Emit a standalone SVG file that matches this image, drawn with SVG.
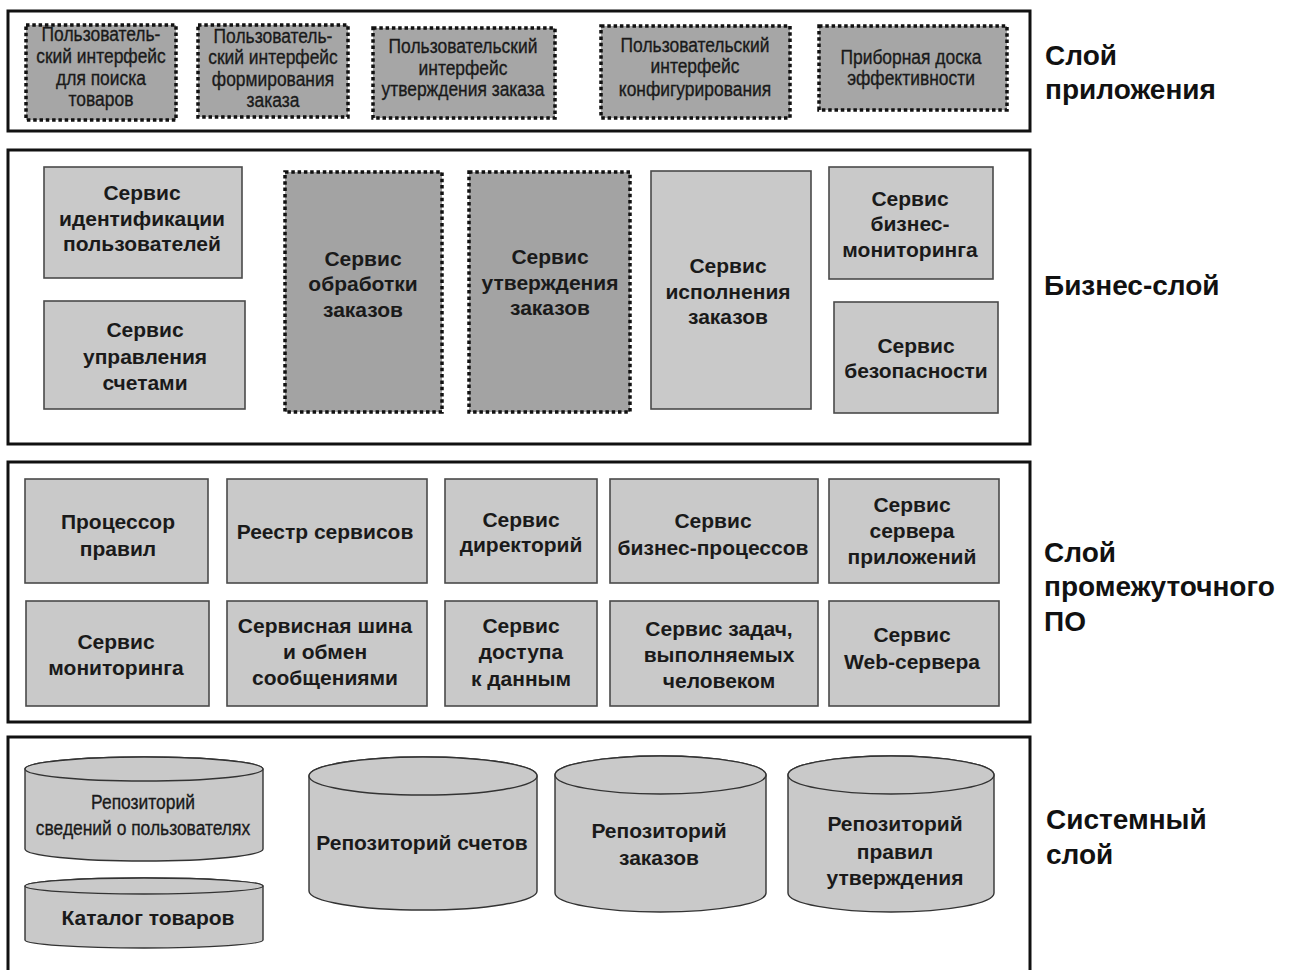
<svg xmlns="http://www.w3.org/2000/svg" width="1300" height="970" viewBox="0 0 1300 970">
<style>
.layer{fill:#fff;stroke:#111;stroke-width:3}
.box{fill:#c9c9c9;stroke:#4a4a4a;stroke-width:1.6}
.dot{fill:#a6a6a6;stroke:#111;stroke-width:3.5;stroke-dasharray:3.5 2.8}
.dotdk{fill:#a3a3a3;stroke:#111;stroke-width:3.5;stroke-dasharray:3.5 2.8}
.cyl{fill:#c9c9c9;stroke:#333;stroke-width:1.4}
.n{font-family:"Liberation Sans",Arial,sans-serif;font-size:21px;fill:#1a1a1a;stroke:#1a1a1a;stroke-width:0.35;text-anchor:middle}
.b{font-family:"Liberation Sans",Arial,sans-serif;font-size:21px;font-weight:bold;fill:#1a1a1a;text-anchor:middle}
.lbl{font-family:"Liberation Sans",Arial,sans-serif;font-size:28px;font-weight:bold;fill:#111}
</style>
<rect width="1300" height="970" fill="#fff"/>
<g id="layers">
<rect id="layer-app" class="layer" x="8" y="11" width="1022" height="120"/>
<rect id="layer-business" class="layer" x="8" y="150" width="1022" height="294"/>
<rect id="layer-middleware" class="layer" x="8" y="462" width="1022" height="260"/>
<rect id="layer-system" class="layer" x="8" y="737" width="1022" height="250"/>
</g>
<g id="layer-labels">
<text class="lbl" x="1045" y="65">Слой</text>
<text class="lbl" x="1045" y="99">приложения</text>
<text class="lbl" x="1044" y="295">Бизнес-слой</text>
<text class="lbl" x="1044" y="562">Слой</text>
<text class="lbl" x="1044" y="596">промежуточного</text>
<text class="lbl" x="1044" y="631">ПО</text>
<text class="lbl" x="1046" y="829">Системный</text>
<text class="lbl" x="1046" y="864">слой</text>
</g>
<g id="connectors"></g>
<!-- Application layer -->
<g id="ui-search">
<rect class="dot" x="26" y="25" width="150" height="95"/>
<g transform="translate(101,0) scale(0.83,1)">
<text class="n" x="0" y="41">Пользователь-</text>
<text class="n" x="0" y="63">ский интерфейс</text>
<text class="n" x="0" y="85">для поиска</text>
<text class="n" x="0" y="106">товаров</text>
</g>
</g>
<g id="ui-order">
<rect class="dot" x="198" y="25" width="150" height="92"/>
<g transform="translate(273,0) scale(0.83,1)">
<text class="n" x="0" y="43">Пользователь-</text>
<text class="n" x="0" y="64">ский интерфейс</text>
<text class="n" x="0" y="86">формирования</text>
<text class="n" x="0" y="107">заказа</text>
</g>
</g>
<g id="ui-approve">
<rect class="dot" x="373" y="28" width="182" height="90"/>
<g transform="translate(463,0) scale(0.83,1)">
<text class="n" x="0" y="53">Пользовательский</text>
<text class="n" x="0" y="75">интерфейс</text>
<text class="n" x="0" y="96">утверждения заказа</text>
</g>
</g>
<g id="ui-config">
<rect class="dot" x="601" y="26" width="189" height="92"/>
<g transform="translate(695,0) scale(0.83,1)">
<text class="n" x="0" y="52">Пользовательский</text>
<text class="n" x="0" y="73">интерфейс</text>
<text class="n" x="0" y="96">конфигурирования</text>
</g>
</g>
<g id="dashboard">
<rect class="dot" x="819" y="26" width="188" height="84"/>
<g transform="translate(911,0) scale(0.83,1)">
<text class="n" x="0" y="64">Приборная доска</text>
<text class="n" x="0" y="85">эффективности</text>
</g>
</g>
<!-- Business layer -->
<g id="svc-identity">
<rect class="box" x="44" y="167" width="198" height="111"/>
<text class="b" x="142" y="200">Сервис</text>
<text class="b" x="142" y="226">идентификации</text>
<text class="b" x="142" y="251">пользователей</text>
</g>
<g id="svc-accounts">
<rect class="box" x="44" y="301" width="201" height="108"/>
<text class="b" x="145" y="337">Сервис</text>
<text class="b" x="145" y="364">управления</text>
<text class="b" x="145" y="390">счетами</text>
</g>
<g id="svc-order-processing">
<rect class="dotdk" x="285" y="172" width="157" height="240"/>
<text class="b" x="363" y="266">Сервис</text>
<text class="b" x="363" y="291">обработки</text>
<text class="b" x="363" y="317">заказов</text>
</g>
<g id="svc-order-approval">
<rect class="dotdk" x="469" y="172" width="161" height="240"/>
<text class="b" x="550" y="264">Сервис</text>
<text class="b" x="550" y="290">утверждения</text>
<text class="b" x="550" y="315">заказов</text>
</g>
<g id="svc-order-fulfilment">
<rect class="box" x="651" y="171" width="160" height="238"/>
<text class="b" x="728" y="273">Сервис</text>
<text class="b" x="728" y="299">исполнения</text>
<text class="b" x="728" y="324">заказов</text>
</g>
<g id="svc-bam">
<rect class="box" x="829" y="167" width="164" height="112"/>
<text class="b" x="910" y="206">Сервис</text>
<text class="b" x="910" y="231">бизнес-</text>
<text class="b" x="910" y="257">мониторинга</text>
</g>
<g id="svc-security">
<rect class="box" x="834" y="302" width="164" height="111"/>
<text class="b" x="916" y="353">Сервис</text>
<text class="b" x="916" y="378">безопасности</text>
</g>
<!-- Middleware layer -->
<g id="mw-rules">
<rect class="box" x="25" y="479" width="183" height="104"/>
<text class="b" x="118" y="529">Процессор</text>
<text class="b" x="118" y="556">правил</text>
</g>
<g id="mw-registry">
<rect class="box" x="227" y="479" width="200" height="104"/>
<text class="b" x="325" y="539">Реестр сервисов</text>
</g>
<g id="mw-directory">
<rect class="box" x="445" y="479" width="152" height="104"/>
<text class="b" x="521" y="527">Сервис</text>
<text class="b" x="521" y="552">директорий</text>
</g>
<g id="mw-bpm">
<rect class="box" x="610" y="479" width="208" height="104"/>
<text class="b" x="713" y="528">Сервис</text>
<text class="b" x="713" y="555">бизнес-процессов</text>
</g>
<g id="mw-appserver">
<rect class="box" x="829" y="479" width="170" height="104"/>
<text class="b" x="912" y="512">Сервис</text>
<text class="b" x="912" y="538">сервера</text>
<text class="b" x="912" y="564">приложений</text>
</g>
<g id="mw-monitoring">
<rect class="box" x="26" y="601" width="183" height="105"/>
<text class="b" x="116" y="649">Сервис</text>
<text class="b" x="116" y="675">мониторинга</text>
</g>
<g id="mw-esb">
<rect class="box" x="227" y="601" width="200" height="105"/>
<text class="b" x="325" y="633">Сервисная шина</text>
<text class="b" x="325" y="659">и обмен</text>
<text class="b" x="325" y="685">сообщениями</text>
</g>
<g id="mw-dataaccess">
<rect class="box" x="445" y="601" width="152" height="105"/>
<text class="b" x="521" y="633">Сервис</text>
<text class="b" x="521" y="659">доступа</text>
<text class="b" x="521" y="686">к данным</text>
</g>
<g id="mw-humantask">
<rect class="box" x="610" y="601" width="208" height="105"/>
<text class="b" x="719" y="636">Сервис задач,</text>
<text class="b" x="719" y="662">выполняемых</text>
<text class="b" x="719" y="688">человеком</text>
</g>
<g id="mw-webserver">
<rect class="box" x="829" y="601" width="170" height="105"/>
<text class="b" x="912" y="642">Сервис</text>
<text class="b" x="912" y="669">Web-сервера</text>
</g>
<!-- System layer -->
<g id="repo-users">
<path class="cyl" d="M25,769 L25,849 A119,12 0 0 0 263,849 L263,769 A119,12 0 0 0 25,769 Z"/>
<ellipse class="cyl" cx="144" cy="769" rx="119" ry="12"/>
<g transform="translate(143,0) scale(0.83,1)">
<text class="n" x="0" y="809">Репозиторий</text>
<text class="n" x="0" y="835">сведений о пользователях</text>
</g>
</g>
<g id="catalog">
<path class="cyl" d="M25,886 L25,940 A119,8 0 0 0 263,940 L263,886 A119,8 0 0 0 25,886 Z"/>
<ellipse class="cyl" cx="144" cy="886" rx="119" ry="8"/>
<text class="b" x="148" y="925">Каталог товаров</text>
</g>
<g id="repo-accounts">
<path class="cyl" d="M309,776 L309,891 A114,19 0 0 0 537,891 L537,776 A114,19 0 0 0 309,776 Z"/>
<ellipse class="cyl" cx="423" cy="776" rx="114" ry="19"/>
<text class="b" x="422" y="850">Репозиторий счетов</text>
</g>
<g id="repo-orders">
<path class="cyl" d="M555,775 L555,893 A105.5,19 0 0 0 766,893 L766,775 A105.5,19 0 0 0 555,775 Z"/>
<ellipse class="cyl" cx="660.5" cy="775" rx="105.5" ry="19"/>
<text class="b" x="659" y="838">Репозиторий</text>
<text class="b" x="659" y="865">заказов</text>
</g>
<g id="repo-rules">
<path class="cyl" d="M788,775 L788,893 A103,19 0 0 0 994,893 L994,775 A103,19 0 0 0 788,775 Z"/>
<ellipse class="cyl" cx="891" cy="775" rx="103" ry="19"/>
<text class="b" x="895" y="831">Репозиторий</text>
<text class="b" x="895" y="859">правил</text>
<text class="b" x="895" y="885">утверждения</text>
</g>
</svg>
